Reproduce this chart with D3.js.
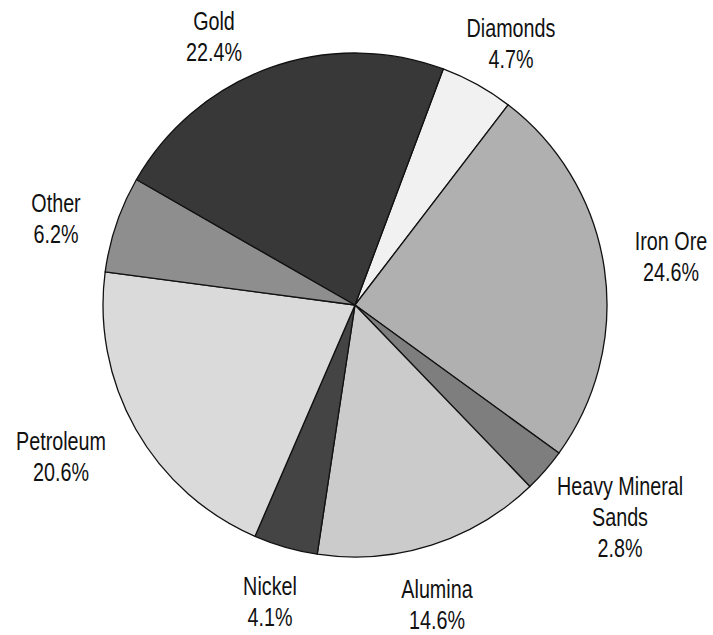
<!DOCTYPE html>
<html>
<head>
<meta charset="utf-8">
<script src="https://cdn.jsdelivr.net/npm/d3@7"></script>
<style>
  html, body { margin: 0; padding: 0; background: #fff; }
  svg { display: block; }
  text { font-family: "Liberation Sans Narrow", "Arial Narrow", "Liberation Sans", sans-serif; font-size: 25px; fill: #111; }
</style>
</head>
<body>
<svg id="chart" width="713" height="635"></svg>
<script>
// Data (clockwise from the Gold/Diamonds boundary)
const categories = ["Diamonds", "Iron Ore", "Heavy Mineral Sands", "Alumina", "Nickel", "Petroleum", "Other", "Gold"];
const shares = [4.7, 24.6, 2.8, 14.6, 4.1, 20.6, 6.2, 22.4];
const shareLabels = ["4.7%", "24.6%", "2.8%", "14.6%", "4.1%", "20.6%", "6.2%", "22.4%"];
const labelLines = [["Diamonds"], ["Iron Ore"], ["Heavy Mineral", "Sands"], ["Alumina"], ["Nickel"], ["Petroleum"], ["Other"], ["Gold"]];
const fills = ["#f1f1f1", "#b0b0b0", "#7e7e7e", "#cbcbcb", "#444444", "#dadada", "#8e8e8e", "#383838"];

// Layout
const cx = 355, cy = 305, radius = 252;
const startDeg = 20.5;
const labelPos = [
  [511, 37], [671, 250], [620, 495], [437, 598], [270, 595], [61, 450], [56, 212], [214, 30]
];
const lineH = 31;
const squeeze = 0.79;

const svg = d3.select("#chart");
const pie = d3.pie().sort(null).value(d => d)
  .startAngle(startDeg * Math.PI / 180)
  .endAngle(startDeg * Math.PI / 180 + 2 * Math.PI);
const arc = d3.arc().innerRadius(0).outerRadius(radius);
const color = d3.scaleOrdinal().domain(categories).range(fills);

const g = svg.append("g").attr("transform", `translate(${cx},${cy})`);
g.selectAll("path")
  .data(pie(shares))
  .join("path")
  .attr("d", arc)
  .attr("fill", (d, i) => color(categories[i]))
  .attr("stroke", "#111")
  .attr("stroke-width", 1.3)
  .attr("stroke-linejoin", "round");

categories.forEach((c, i) => {
  const lines = labelLines[i].concat([shareLabels[i]]);
  const t = svg.append("text")
    .attr("text-anchor", "middle")
    .attr("transform", `translate(${labelPos[i][0]},${labelPos[i][1]}) scale(${squeeze},1)`);
  lines.forEach((ln, k) => {
    t.append("tspan")
      .attr("x", 0)
      .attr("dy", k === 0 ? 0 : lineH)
      .text(ln);
  });
});
</script>
</body>
</html>
